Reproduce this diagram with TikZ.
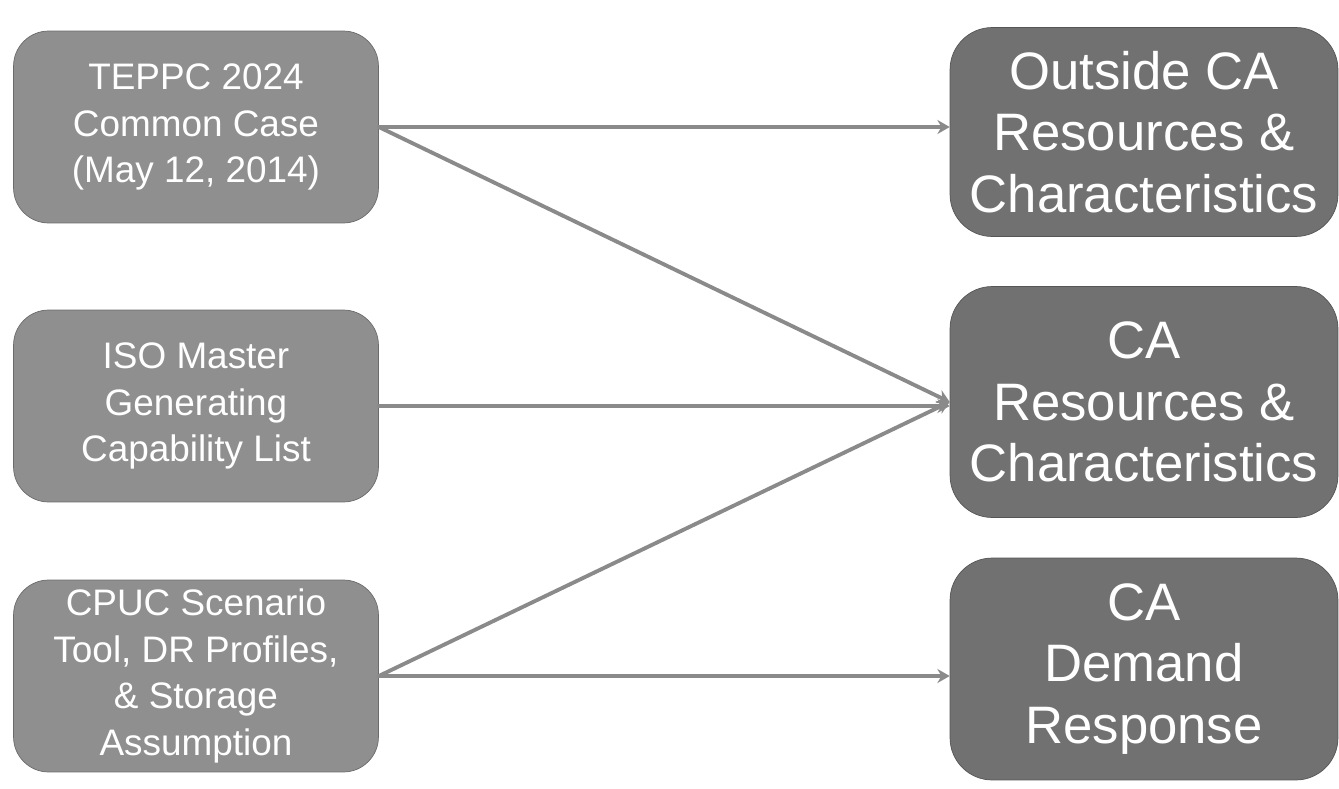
\documentclass[tikz,border=0pt]{standalone}
\usepackage{fontspec}
\setmainfont{Liberation Sans}
\usetikzlibrary{arrows.meta,positioning}
\definecolor{srcgray}{HTML}{8F8F8F}
\definecolor{resgray}{HTML}{717171}
\definecolor{linkgray}{HTML}{8A8A8A}

\begin{document}
\begin{tikzpicture}[x=0.02cm,y=-0.02cm,line join=round,line cap=round]
\tikzset{src/.style={fill=srcgray,draw=srcgray!75!black,rounded corners=20pt,minimum width=7.3cm,minimum height=3.84cm,align=center,text=white,font=\fontsize{21}{26.5}\selectfont},
res/.style={fill=resgray,draw=resgray!75!black,rounded corners=24pt,minimum width=7.76cm,align=center,text=white,font=\fontsize{30}{35}\selectfont},
link/.style={draw=linkgray,line width=2.2pt,-{Stealth[length=7pt,width=8pt]}}}
\useasboundingbox (0,0) rectangle (1339,788);
\node[src] (T) at (196,127) {TEPPC 2024\\Common Case\\(May 12, 2014)};
\node[src] (I) at (196,406) {ISO Master\\Generating\\Capability List};
\node[src] (P) at (196,676) {CPUC Scenario\\Tool, DR Profiles,\\\& Storage\\Assumption};
\node[res,minimum height=4.18cm] (O) at (1144,132) {Outside CA\\Resources \&\\Characteristics};
\node[res,minimum height=4.62cm] (C) at (1144,402) {CA\\Resources \&\\Characteristics};
\node[res,minimum height=4.44cm] (D) at (1144,669) {CA\\Demand\\Response};
\draw[link] (T.east) -- (T.east -| O.west);
\draw[link] (I.east) -- (I.east -| C.west);
\draw[link] (P.east) -- (P.east -| D.west);
\foreach \a in {T,P}{\draw[link] (\a.east) -- (C.west);}
\end{tikzpicture}
\end{document}
